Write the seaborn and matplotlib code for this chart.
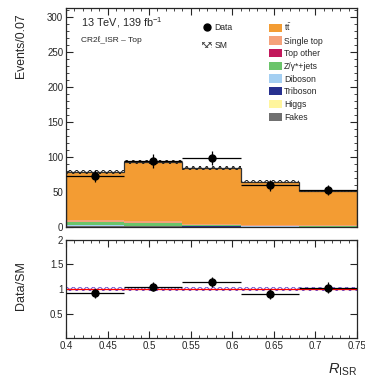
import numpy as np
import pandas as pd
import matplotlib
matplotlib.use("Agg")
import matplotlib.pyplot as plt
from matplotlib.ticker import MultipleLocator
from matplotlib.patches import Patch
from matplotlib.lines import Line2D
import seaborn as sns

# ---- data ----
edges = [0.40, 0.47, 0.54, 0.61, 0.68, 0.75]
processes = ["tt\u0304", "Single top", "Top other", "Z/\u03b3*+jets", "Diboson", "Triboson", "Higgs", "Fakes"]
legend_labels = [r"t$\bar{\rm t}$", "Single top", "Top other", "Z/\u03b3*+jets", "Diboson", "Triboson", "Higgs", "Fakes"]
colors = ["#F39C33", "#F5A27A", "#C2185B", "#6BC46B", "#A4CFF2", "#27308F", "#FFF59D", "#707070"]
ttbar = [69.0, 84.5, 80.5, 61.5, 49.0]
single_top = [2.5, 2.5, 1.5, 1.0, 1.0]
top_other = [0.4, 0.4, 0.3, 0.3, 0.2]
zjets = [5.0, 3.8, 1.3, 0.7, 0.5]
diboson = [0.6, 0.5, 0.4, 0.3, 0.2]
triboson = [0.3, 0.3, 0.2, 0.1, 0.1]
higgs = [0.1, 0.1, 0.1, 0.05, 0.05]
fakes = [1.2, 1.0, 0.6, 0.5, 0.3]
data_vals = [73.0, 94.0, 98.5, 59.5, 52.5]
data_errs = [8.5, 9.7, 9.9, 7.7, 7.2]
ratio_vals = [0.91, 1.05, 1.15, 0.90, 1.03]
ratio_errs = [0.09, 0.09, 0.10, 0.10, 0.12]
sm_rel_unc = 0.035
x_ticks = [0.4, 0.45, 0.5, 0.55, 0.6, 0.65, 0.7, 0.75]
x_ticklabels = ["0.4", "0.45", "0.5", "0.55", "0.6", "0.65", "0.7", "0.75"]

components = [ttbar, single_top, top_other, zjets, diboson, triboson, higgs, fakes]
edges_a = np.array(edges)
centers = 0.5 * (edges_a[:-1] + edges_a[1:])
halfw = 0.5 * np.diff(edges_a)
sm_total = np.sum(np.array(components), axis=0)

rows = []
for p, vals in zip(processes, components):
    for c, v in zip(centers, vals):
        rows.append({"x": c, "w": v, "proc": p})
df = pd.DataFrame(rows)

sns.set_style("ticks")
plt.rcParams["font.family"] = ["Liberation Sans", "DejaVu Sans"]
plt.rcParams["mathtext.fontset"] = "custom"
plt.rcParams["mathtext.rm"] = "Liberation Sans"
plt.rcParams["mathtext.it"] = "Liberation Sans:italic"
plt.rcParams["hatch.linewidth"] = 0.7

fig = plt.figure(figsize=(3.65, 3.79), dpi=100)
ax = fig.add_axes([0.181, 0.401, 0.797, 0.578])
axr = fig.add_axes([0.181, 0.108, 0.797, 0.259])

sns.histplot(data=df, x="x", weights="w", hue="proc", hue_order=processes,
             palette=dict(zip(processes, colors)), bins=edges, multiple="stack",
             element="step", fill=True, alpha=1, linewidth=0, legend=False, ax=ax)

# SM total and uncertainty band
ax.stairs(sm_total, edges_a, color="#333333", lw=0.9)
ax.stairs(sm_total * (1 + sm_rel_unc), edges_a, baseline=sm_total * (1 - sm_rel_unc),
          fill=True, facecolor="none", edgecolor="#222222", hatch="xxxxx", lw=0)
ax.errorbar(centers, data_vals, xerr=halfw, yerr=data_errs, fmt="o", color="black",
            ms=5, elinewidth=0.9, capsize=0, zorder=5)

ax.set_xlim(0.4, 0.75)
ax.set_ylim(0, 313)
ax.set_xlabel("")
ax.set_ylabel("Events/0.07", fontsize=8.8)
ax.set_xticks(x_ticks)
ax.set_xticklabels([])
ax.yaxis.set_major_locator(MultipleLocator(50))
ax.yaxis.set_minor_locator(MultipleLocator(10))
ax.xaxis.set_minor_locator(MultipleLocator(0.01))

for a in (ax, axr):
    a.tick_params(which="both", direction="in", top=True, right=True, labelsize=7, pad=2)
    a.tick_params(which="major", length=5, width=0.8)
    a.tick_params(which="minor", length=2.5, width=0.6)
    for s in a.spines.values():
        s.set_linewidth(0.9)

ax.text(0.05, 0.935, r"13 TeV, 139 fb$^{-1}$", transform=ax.transAxes, fontsize=7.8, va="center")
ax.text(0.05, 0.855, "CR2\u2113_ISR \u2013 Top", transform=ax.transAxes, fontsize=6, va="center")

h_data = Line2D([], [], marker="o", color="black", ls="none", ms=5)
h_sm = Patch(facecolor="white", edgecolor="#444444", hatch="xxxxx", lw=0)
leg1 = ax.legend([h_data, h_sm], ["Data", "SM"], loc="upper left", bbox_to_anchor=(0.44, 0.965),
                 frameon=False, fontsize=6.2, handlelength=1.2, handletextpad=0.3, labelspacing=1.0)
ax.add_artist(leg1)
handles = [Patch(facecolor=c, edgecolor="none") for c in colors]
ax.legend(handles, legend_labels, loc="upper left", bbox_to_anchor=(0.67, 0.975), frameon=False,
          fontsize=6.2, handlelength=1.5, handleheight=1.1, handletextpad=0.3, labelspacing=0.42)

# ratio panel
axr.stairs(np.full(len(centers), 1.0 + sm_rel_unc), edges_a,
           baseline=np.full(len(centers), 1.0 - sm_rel_unc),
           fill=True, facecolor="none", edgecolor="#6A4FD0", hatch="xxxxx", lw=0)
axr.axhline(1.0, color="red", lw=0.9)
axr.errorbar(centers, ratio_vals, xerr=halfw, yerr=ratio_errs, fmt="o", color="black",
             ms=5, elinewidth=0.9, capsize=0, zorder=5)
axr.set_xlim(0.4, 0.75)
axr.set_ylim(0, 2)
axr.set_yticks([0.5, 1, 1.5, 2])
axr.set_yticklabels(["0.5", "1", "1.5", "2"])
axr.yaxis.set_minor_locator(MultipleLocator(0.1))
axr.tick_params(axis="y", which="minor", length=0)
axr.set_xticks(x_ticks)
axr.set_xticklabels(x_ticklabels)
axr.xaxis.set_minor_locator(MultipleLocator(0.01))
axr.set_ylabel("Data/SM", fontsize=9)
axr.set_xlabel(r"$R_{\rm ISR}$", fontsize=10.5, loc="right", labelpad=8)

ax.yaxis.set_label_coords(-0.135, 0.83)
axr.yaxis.set_label_coords(-0.135, 0.53)

fig.savefig("out.png", dpi=100)
